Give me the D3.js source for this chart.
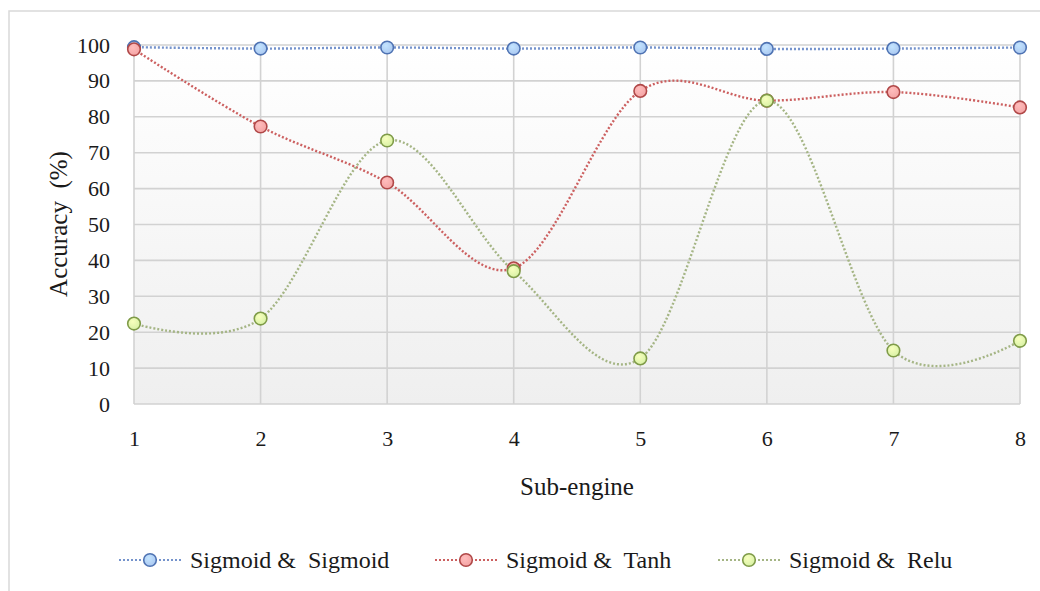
<!DOCTYPE html>
<html><head><meta charset="utf-8">
<script src="https://cdn.jsdelivr.net/npm/d3@7"></script>
<style>
html,body{margin:0;padding:0;background:#fff;}
</style></head>
<body><svg id="c" width="1040" height="591"></svg>
<script>
const categories = [1,2,3,4,5,6,7,8];
const seriesNames = ["Sigmoid &  Sigmoid","Sigmoid &  Tanh","Sigmoid &  Relu"];
const sigmoidSigmoid = [99.4, 99.0, 99.3, 99.0, 99.3, 98.9, 99.0, 99.3];
const sigmoidTanh = [98.8, 77.3, 61.7, 37.8, 87.2, 84.5, 86.9, 82.6];
const sigmoidRelu = [22.4, 23.8, 73.4, 37.0, 12.7, 84.5, 14.9, 17.6];
const yTicks = [0,10,20,30,40,50,60,70,80,90,100];
const colors = [
  {line:"#7593cc", fill:"#a9c6ef", stroke:"#4f73b3"},
  {line:"#cc6060", fill:"#f3a3a3", stroke:"#b04848"},
  {line:"#a5b585", fill:"#d6f0a4", stroke:"#7f9b48"}
];
const FONT = "'Liberation Serif','DejaVu Serif','Times New Roman',serif";

const svg = d3.select("#c").attr("font-family", FONT);
const pLeft = 134, pRight = 1020, pTop = 45, pBottom = 404;
const x = d3.scaleLinear().domain([1,8]).range([pLeft,pRight]);
const y = d3.scaleLinear().domain([0,100]).range([pBottom,pTop]);

// outer frame
svg.append("rect").attr("x",9).attr("y",11).attr("width",1100).attr("height",700)
  .attr("fill","#fff").attr("stroke","#d9d9d9").attr("stroke-width",1.5);

const defs = svg.append("defs");
const bg = defs.append("linearGradient").attr("id","bg").attr("x1",0).attr("y1",0).attr("x2",0).attr("y2",1);
bg.append("stop").attr("offset","0%").attr("stop-color","#ffffff");
bg.append("stop").attr("offset","100%").attr("stop-color","#efefef");
colors.forEach((c,i)=>{
  const g = defs.append("radialGradient").attr("id","m"+i).attr("cx","40%").attr("cy","35%").attr("r","70%");
  g.append("stop").attr("offset","0%").attr("stop-color",d3.color(c.fill).brighter(0.4));
  g.append("stop").attr("offset","100%").attr("stop-color",c.fill);
});

svg.append("rect").attr("x",pLeft).attr("y",pTop).attr("width",pRight-pLeft).attr("height",pBottom-pTop).attr("fill","url(#bg)");

// gridlines
svg.append("g").selectAll("line").data(yTicks).join("line")
  .attr("x1",pLeft).attr("x2",pRight).attr("y1",d=>y(d)).attr("y2",d=>y(d))
  .attr("stroke","#d2d2d2").attr("stroke-width",1.6);
svg.append("g").selectAll("line").data(categories).join("line")
  .attr("x1",d=>x(d)).attr("x2",d=>x(d)).attr("y1",pTop).attr("y2",pBottom)
  .attr("stroke","#d2d2d2").attr("stroke-width",1.6);

// axes labels via d3 axes
const yAxis = svg.append("g").attr("transform",`translate(${pLeft},0)`)
  .call(d3.axisLeft(y).tickValues(yTicks).tickSize(0).tickPadding(24));
yAxis.attr("font-family", FONT);
yAxis.select(".domain").remove();
yAxis.selectAll("text").attr("font-size",22).style("font-family",FONT).attr("fill","#1a1a1a");

const xAxis = svg.append("g").attr("transform",`translate(0,${pBottom})`)
  .call(d3.axisBottom(x).tickValues(categories).tickFormat(d3.format("d")).tickSize(0).tickPadding(26));
xAxis.attr("font-family", FONT);
xAxis.select(".domain").remove();
xAxis.selectAll("text").attr("font-size",22).style("font-family",FONT).attr("fill","#1a1a1a");

svg.append("text").attr("x",577).attr("y",495).attr("text-anchor","middle").attr("font-size",25)
  .style("font-family",FONT).attr("fill","#1a1a1a").text("Sub-engine");
svg.append("text").attr("transform","translate(67,224) rotate(-90)").attr("text-anchor","middle")
  .attr("font-size",25).style("font-family",FONT).attr("fill","#1a1a1a").style("white-space","pre").text("Accuracy  (%)");

const allSeries = [sigmoidSigmoid, sigmoidTanh, sigmoidRelu];
const line = d3.line().x((d,i)=>x(categories[i])).y(d=>y(d)).curve(d3.curveCardinal.tension(0));

allSeries.forEach((s,i)=>{
  const g = svg.append("g");
  g.append("path").attr("d",line(s)).attr("fill","none").attr("stroke",colors[i].line)
    .attr("stroke-width",2.4).attr("stroke-dasharray","2,2");
  g.selectAll("circle").data(s).join("circle")
    .attr("cx",(d,j)=>x(categories[j])).attr("cy",d=>y(d)).attr("r",6.3)
    .attr("fill",`url(#m${i})`).attr("stroke",colors[i].stroke).attr("stroke-width",1.6);
});

// legend
const legX = [150, 466, 749];
const legY = 560;
seriesNames.forEach((n,i)=>{
  const g = svg.append("g");
  g.append("line").attr("x1",legX[i]-31).attr("x2",legX[i]+31).attr("y1",legY).attr("y2",legY)
    .attr("stroke",colors[i].line).attr("stroke-width",2).attr("stroke-dasharray","2,2");
  g.append("circle").attr("cx",legX[i]).attr("cy",legY).attr("r",6.3)
    .attr("fill",`url(#m${i})`).attr("stroke",colors[i].stroke).attr("stroke-width",1.6);
  g.append("text").attr("x",legX[i]+40).attr("y",legY+8).attr("font-size",24)
    .style("font-family",FONT).attr("fill","#1a1a1a").style("white-space","pre").text(n);
});
</script></body></html>
